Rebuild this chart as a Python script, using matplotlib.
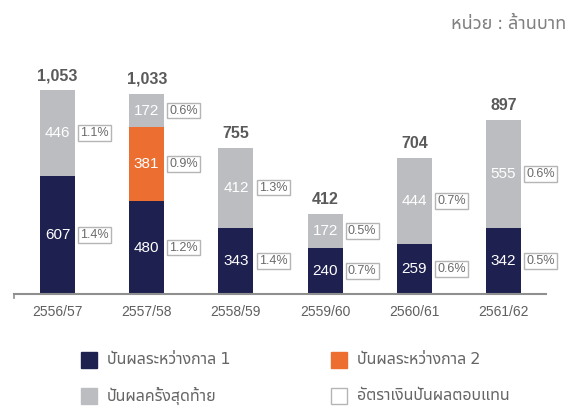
import numpy as np
import matplotlib
matplotlib.use('Agg')
import matplotlib.pyplot as plt
from matplotlib import font_manager
from matplotlib.ft2font import FT2Font
from matplotlib.patches import Rectangle

# ข้อมูลเงินปันผล (ล้านบาท)
years = ['2556/57', '2557/58', '2558/59', '2559/60', '2560/61', '2561/62']
interim1 = [607, 480, 343, 240, 259, 342]
interim2 = [0, 381, 0, 0, 0, 0]
final = [446, 172, 412, 172, 444, 555]
totals = [1053, 1033, 755, 412, 704, 897]

# อัตราเงินปันผลตอบแทน
yield1 = ['1.4%', '1.2%', '1.4%', '0.7%', '0.6%', '0.5%']
yield2 = [None, '0.9%', None, None, None, None]
yield_final = ['1.1%', '0.6%', '1.3%', '0.5%', '0.7%', '0.6%']

legend_labels = ['ปันผลระหว่างกาล 1', 'ปันผลระหว่างกาล 2',
                 'ปันผลครั้งสุดท้าย', 'อัตราเงินปันผลตอบแทน']
unit_text = 'หน่วย : ล้านบาท'

NAVY = '#1e2050'
ORANGE = '#ec6f31'
GREY = '#bcbdc0'


def find_thai_font():
    # หาฟอนต์ที่มีอักษรไทย (ชอบแบบไม่มีหัวก่อน)
    found = []
    for f in font_manager.fontManager.ttflist:
        try:
            if 0x0E1B in FT2Font(f.fname).get_charmap():
                found.append(f.name)
        except Exception:
            pass
    for name in found:
        if name.startswith('Noto Sans Thai') and 'Looped' not in name:
            return name
    return found[0] if found else 'DejaVu Sans'


thai_font = find_thai_font()
plt.rcParams['font.family'] = ['Liberation Sans', thai_font, 'DejaVu Sans']

fig = plt.figure(figsize=(5.87, 4.07), dpi=100)
W, H = 587, 407

# แกนหลัก (กำหนดตำแหน่งเป็นพิกเซล)
ymax = 1100
px_per_unit = 204 / 1053
ax_h = ymax * px_per_unit
ax = fig.add_axes([14 / W, 113 / H, 532 / W, ax_h / H])

x = np.arange(len(years))
bar_w = 0.392
i1 = np.array(interim1)
i2 = np.array(interim2)
fn = np.array(final)

ax.bar(x, i1, width=bar_w, color=NAVY)
ax.bar(x, i2, width=bar_w, bottom=i1, color=ORANGE)
ax.bar(x, fn, width=bar_w, bottom=i1 + i2, color=GREY)

ax.set_xlim(-0.4877, -0.4877 + 532 / 89.2)
ax.set_ylim(0, ymax)

box_w = 0.37
box_h = 15.5 / px_per_unit
gap = 0.035


def label_segment(xi, bottom, height, value, pct):
    mid = bottom + height / 2
    ax.text(xi, mid, str(value), ha='center', va='center',
            color='white', fontsize=11)
    if pct is None:
        return
    bx = xi + bar_w / 2 + gap
    ax.add_patch(Rectangle((bx, mid - box_h / 2), box_w, box_h,
                           facecolor='white', edgecolor='#b5b5b5',
                           linewidth=1, clip_on=False))
    ax.text(bx + box_w / 2, mid, pct, ha='center', va='center',
            color='#6a6a6a', fontsize=9, clip_on=False)


for i in range(len(years)):
    label_segment(x[i], 0, i1[i], i1[i], yield1[i])
    if i2[i] > 0:
        label_segment(x[i], i1[i], i2[i], i2[i], yield2[i])
    label_segment(x[i], i1[i] + i2[i], fn[i], fn[i], yield_final[i])
    ax.annotate(f'{totals[i]:,}', (x[i], i1[i] + i2[i] + fn[i]),
                xytext=(0, 10.4), textcoords='offset points',
                ha='center', va='center', fontsize=11.5,
                fontweight='bold', color='#5a5a5a')

for side in ['top', 'right', 'left']:
    ax.spines[side].set_visible(False)
ax.spines['bottom'].set_color('#8f8f8f')
ax.spines['bottom'].set_linewidth(1.5)
ax.set_yticks([])
ax.set_xticks(x)
ax.set_xticklabels(years)
ax.tick_params(axis='x', length=0, pad=8, labelsize=10, labelcolor='#5f5f5f')
# ขีดเล็กที่ปลายซ้ายของแกน
ax.plot([ax.get_xlim()[0]] * 2, [0, -22], color='#8f8f8f', lw=1.2,
        clip_on=False)

# หน่วย
fig.text(566 / W, 1 - 24 / H, unit_text, ha='right', va='center',
         fontsize=13, color='#808080', family=[thai_font, 'DejaVu Sans'])

# คำอธิบายสัญลักษณ์
legend_items = [
    (81, 360, NAVY, NAVY, legend_labels[0]),
    (331, 360, ORANGE, ORANGE, legend_labels[1]),
    (81, 396, GREY, GREY, legend_labels[2]),
    (331, 396, 'white', '#b5b5b5', legend_labels[3]),
]
for lx, ly, fc, ec, lab in legend_items:
    fig.add_artist(Rectangle((lx / W, 1 - (ly + 8) / H), 16 / W, 16 / H,
                             transform=fig.transFigure, facecolor=fc,
                             edgecolor=ec, linewidth=1))
    fig.text((lx + 26) / W, 1 - ly / H, lab, ha='left', va='center',
             fontsize=11.5, color='#666666',
             family=[thai_font, 'DejaVu Sans'])

fig.savefig('out.png', dpi=100)
